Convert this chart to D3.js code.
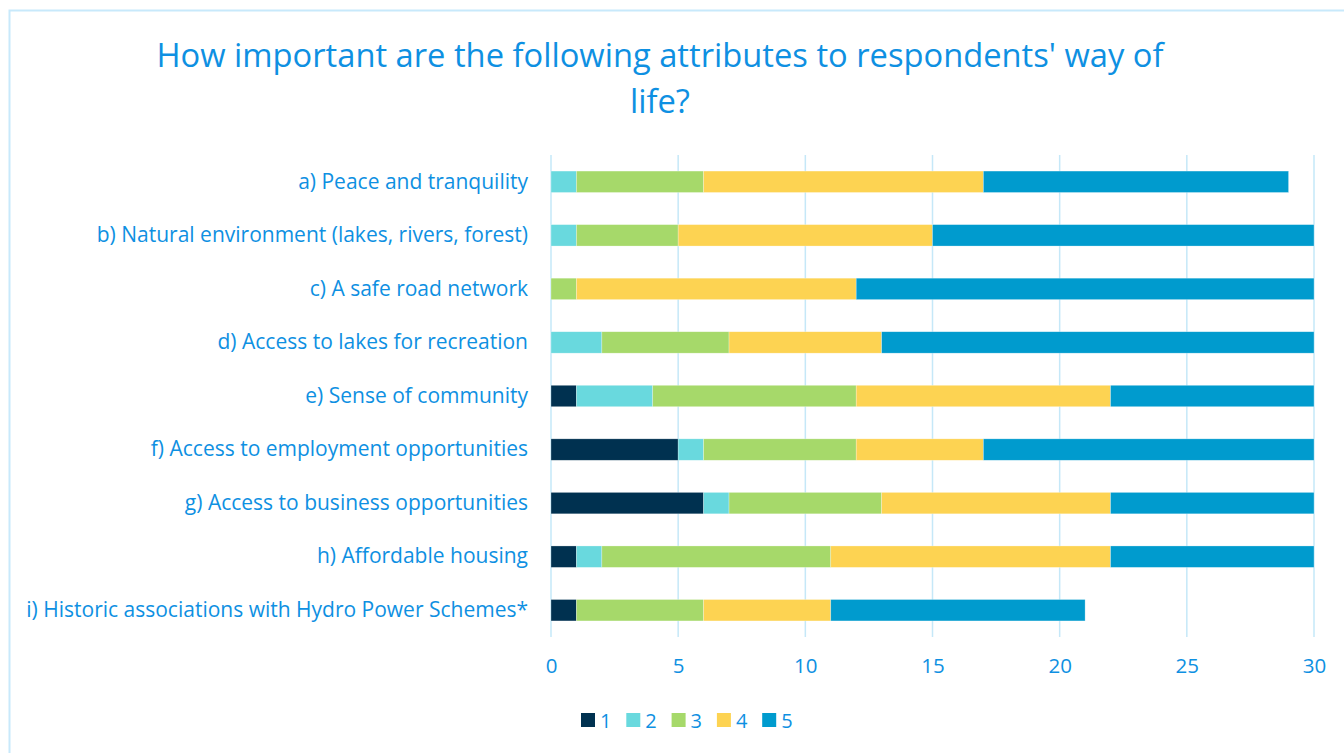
<!DOCTYPE html>
<html>
<head>
<meta charset="utf-8">
<script src="https://cdn.jsdelivr.net/npm/d3@7"></script>
<style>
  html, body { margin: 0; padding: 0; background: #ffffff; }
  svg { display: block; }
  text { font-family: "Open Sans", sans-serif; fill: #0E90E2; }
</style>
</head>
<body>
<svg id="chart" width="1344" height="753"></svg>
<script>
// Survey responses: number of respondents rating each attribute 1..5
const categories = [
  "a) Peace and tranquility",
  "b) Natural environment (lakes, rivers, forest)",
  "c) A safe road network",
  "d) Access to lakes for recreation",
  "e) Sense of community",
  "f) Access to employment opportunities",
  "g) Access to business opportunities",
  "h) Affordable housing",
  "i) Historic associations with Hydro Power Schemes*"
];
const ratings = ["1", "2", "3", "4", "5"];
const rating1 = [0, 0, 0, 0, 1, 5, 6, 1, 1];
const rating2 = [1, 1, 0, 2, 3, 1, 1, 1, 0];
const rating3 = [5, 4, 1, 5, 8, 6, 6, 9, 5];
const rating4 = [11, 10, 11, 6, 10, 5, 9, 11, 5];
const rating5 = [12, 15, 18, 17, 8, 13, 8, 8, 10];
const xTicks = [0, 5, 10, 15, 20, 25, 30];
const titleLines = ["How important are the following attributes to respondents' way of", "life?"];

const colors = ["#003150", "#69D9DE", "#A6D96A", "#FDD352", "#009BCE"];
const seriesValues = [rating1, rating2, rating3, rating4, rating5];

const rows = categories.map((c, i) => {
  const r = { category: c };
  ratings.forEach((k, j) => { r[k] = seriesValues[j][i]; });
  return r;
});
const stacked = d3.stack().keys(ratings)(rows);

const svg = d3.select("#chart");
const font = "'Open Sans', sans-serif";

// outer frame
svg.append("rect")
  .attr("x", 9.5).attr("y", 10.5)
  .attr("width", 1344).attr("height", 760)
  .attr("fill", "none").attr("stroke", "#C8E9FB").attr("stroke-width", 2);

const x = d3.scaleLinear().domain([0, 30]).range([551, 1314]);
const y = d3.scaleBand().domain(categories).range([155, 637])
  .paddingInner(0.6).paddingOuter(0.3);

// title
svg.append("g").selectAll("text").data(titleLines).join("text")
  .attr("x", 660).attr("y", (d, i) => 67 + i * 46)
  .attr("text-anchor", "middle")
  .style("font-size", "32.7px")
  .text(d => d);

// vertical gridlines
svg.append("g").selectAll("line").data(xTicks).join("line")
  .attr("x1", d => x(d)).attr("x2", d => x(d))
  .attr("y1", 155).attr("y2", 637)
  .attr("stroke", "#C5E8F8").attr("stroke-width", 1.5);

// stacked bars
svg.append("g").selectAll("g").data(stacked).join("g")
  .attr("fill", (d, i) => colors[i])
  .selectAll("rect").data(d => d).join("rect")
  .attr("x", d => x(d[0]))
  .attr("width", d => x(d[1]) - x(d[0]))
  .attr("y", d => y(d.data.category))
  .attr("height", y.bandwidth())
  .attr("stroke", "#ffffff").attr("stroke-opacity", 0.45).attr("stroke-width", 0.6);

// category labels
const yAxis = d3.axisLeft(y).tickSize(0).tickPadding(23);
const yg = svg.append("g").attr("transform", `translate(551,0)`).call(yAxis);
yg.select(".domain").remove();
yg.selectAll("text").style("font-size", "21px").attr("fill", "#0E90E2")
  .style("font-family", font);

// x tick labels
const xAxis = d3.axisBottom(x).tickValues(xTicks).tickSize(0).tickPadding(0);
const xg = svg.append("g").attr("transform", "translate(0,658)").call(xAxis);
xg.select(".domain").remove();
xg.selectAll("text").style("font-size", "20.5px").attr("fill", "#0E90E2")
  .style("font-family", font);

// legend
const legend = svg.append("g").selectAll("g").data(ratings).join("g")
  .attr("transform", (d, i) => `translate(${581 + i * 45.3},713)`);
legend.append("rect").attr("width", 14).attr("height", 14)
  .attr("fill", (d, i) => colors[i]);
legend.append("text").attr("x", 19).attr("y", 14.5)
  .style("font-size", "20px").text(d => d);
</script>
</body>
</html>
